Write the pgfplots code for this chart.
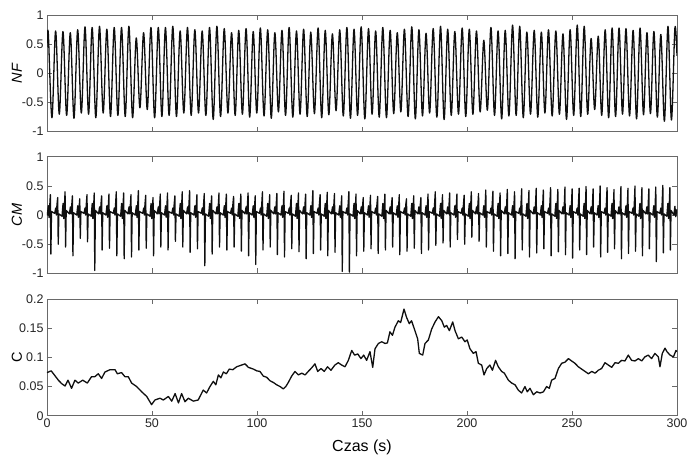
\documentclass[border=0pt]{standalone}
\usepackage{pgfplots}
\pgfplotsset{compat=1.18}
\usepackage{fontspec}
\setmainfont{Liberation Sans}

\definecolor{framegray}{RGB}{105,105,105}
\definecolor{tracecol}{RGB}{15,15,15}

\pgfplotsset{
  panel/.style={
    scale only axis, width=630pt, height=116.5pt,
    xmin=0, xmax=300, xtick={0,50,...,300},
    axis line style={framegray, line width=0.8pt},
    tick style={framegray, line width=0.8pt},
    tick align=inside, major tick length=5pt,
    ticklabel style={font=\fontsize{12.5}{14}\selectfont, text=black!85},
    /pgf/number format/assume math mode=true,
    every axis y label/.style={at={(axis description cs:0,0.5)}, xshift=-30pt,
      rotate=90, anchor=center, font=\fontsize{14.5}{16}\selectfont},
    every axis x label/.style={at={(axis description cs:0.5,0)}, yshift=-32pt,
      anchor=center, font=\fontsize{16}{18}\selectfont},
  },
  signal/.style={tracecol, line width=1.3pt, no marks, line join=round},
}

\begin{document}
\begin{tikzpicture}
\path[use as bounding box] (0,0) rectangle (687pt,461pt);

% ---------------- NF ----------------
\begin{axis}[panel, at={(47pt,329.3pt)}, anchor=south west,
  ymin=-1, ymax=1, ytick={-1,-0.5,0,0.5,1}, yticklabels={-1,-0.5,0,0.5,1},
  xticklabels={}, ylabel={\itshape NF}]
\addplot[signal, smooth, tension=0.55] coordinates {
(0,0.45)(0.6,0.70)(2.35,-0.76)(4.1,0.73)(5.85,-0.70)(7.6,0.72)(9.35,-0.72)(11.1,0.70)(12.85,-0.77)
(14.6,0.75)(16.35,-0.68)(18.1,0.80)(19.8,-0.70)(21.5,0.79)(23.25,-0.76)(25.0,0.81)(26.75,-0.68)
(28.5,0.76)(30.25,-0.74)(32.0,0.79)(33.75,-0.72)(35.5,0.79)(37.25,-0.74)(39.0,0.81)(40.75,-0.76)
(42.5,0.61)(44.25,-0.59)(46.0,0.70)(47.75,-0.62)(49.5,0.79)(51.25,-0.76)(53.0,0.79)(54.7,-0.74)
(56.4,0.79)(58.15,-0.72)(59.9,0.81)(61.65,-0.74)(63.4,0.73)(65.15,-0.68)(66.9,0.79)(68.65,-0.72)
(70.4,0.75)(72.15,-0.68)(73.9,0.73)(75.65,-0.72)(77.4,0.79)(79.15,-0.79)(80.9,0.81)(82.65,-0.74)
(84.4,0.77)(86.15,-0.68)(87.9,0.70)(89.6,-0.72)
(91.3,0.74)(93.05,-0.70)(94.8,0.77)(96.5,-0.75)(98.2,0.72)(99.9,-0.68)(101.6,0.78)(103.35,-0.73)
(105.1,0.75)(106.8,-0.77)(108.5,0.70)(110.2,-0.66)(111.9,0.74)(113.6,-0.72)(115.3,0.79)(117.05,-0.75)
(118.8,0.73)(120.5,-0.70)(122.2,0.76)(123.9,-0.74)(125.6,0.71)(127.35,-0.69)(129.1,0.78)(130.8,-0.76)
(132.5,0.74)(134.2,-0.71)(135.9,0.68)(137.65,-0.64)(139.4,0.75)(141.1,-0.73)(142.8,0.79)(144.5,-0.77)
(146.2,0.76)(147.9,-0.72)(149.6,0.80)(151.35,-0.78)(153.1,0.77)(154.8,-0.70)(156.5,0.73)(158.2,-0.75)
(159.9,0.79)(161.65,-0.76)(163.4,0.74)(165.1,-0.69)(166.8,0.70)(168.5,-0.66)(170.2,0.76)(171.95,-0.74)
(173.7,0.80)(175.4,-0.78)(177.1,0.75)(178.8,-0.73)(180.5,0.69)(182.2,-0.68)(183.9,0.77)(185.65,-0.75)
(187.4,0.81)(189.1,-0.79)(190.8,0.76)(192.5,-0.72)(194.2,0.72)(195.95,-0.70)
(197.7,0.78)(199.4,-0.74)(201.1,0.76)(202.8,-0.70)(204.5,0.73)(206.25,-0.66)(208.0,0.57)(209.7,-0.63)
(211.4,0.79)(213.1,-0.72)(214.8,0.73)(216.5,-0.78)(218.2,0.74)(219.95,-0.73)(221.7,0.83)(223.4,-0.72)
(225.1,0.81)(226.8,-0.76)(228.5,0.71)(230.25,-0.70)(232.0,0.74)(233.7,-0.75)(235.4,0.71)(237.1,-0.68)
(238.8,0.75)(240.55,-0.73)(242.3,0.73)(244.0,-0.70)(245.7,0.68)(247.4,-0.79)(249.1,0.75)(250.8,-0.72)
(252.5,0.83)(254.15,-0.74)(255.8,0.81)(257.45,-0.70)(259.1,0.60)(260.8,-0.62)(262.5,0.64)(264.15,-0.72)
(265.8,0.75)(267.45,-0.76)(269.1,0.78)(270.75,-0.74)(272.4,0.78)(274.05,-0.70)(275.7,0.77)(277.4,-0.73)
(279.1,0.74)(280.75,-0.78)(282.4,0.78)(284.05,-0.71)(285.7,0.70)(287.35,-0.69)(289.0,0.72)(290.65,-0.75)
(292.3,0.67)(294.0,-0.82)(295.7,0.81)(297.35,-0.80)(299.0,0.78)(300,0.30)
};
\end{axis}

% ---------------- CM ----------------
\begin{axis}[panel, at={(47pt,187.7pt)}, anchor=south west,
  ymin=-1, ymax=1, ytick={-1,-0.5,0,0.5,1}, yticklabels={-1,-0.5,0,0.5,1},
  xticklabels={}, ylabel={\itshape CM}]
\addplot[signal] coordinates {
(0,0.05)
(0.15,0.00)(0.65,0.16)(0.95,-0.04)(1.25,0.12)(1.6,0.35)(1.85,-0.67)(2.15,0.06)
(3.65,0.03)(4.15,0.12)(4.45,0.00)(4.75,0.18)(5.1,0.30)(5.35,-0.50)(5.65,0.02)
(7.15,-0.02)(7.65,0.20)(7.95,-0.06)(8.25,0.10)(8.6,0.40)(8.85,-0.55)(9.15,0.08)
(10.65,0.02)(11.15,0.14)(11.45,0.02)(11.75,0.15)(12.1,0.33)(12.35,-0.70)(12.65,0.04)
(14.15,0.00)(14.65,0.16)(14.95,-0.04)(15.25,0.12)(15.6,0.28)(15.85,-0.40)(16.15,0.06)
(17.6,0.03)(18.1,0.12)(18.4,0.00)(18.7,0.18)(19.05,0.35)(19.3,-0.46)(19.6,0.02)
(21.05,-0.02)(21.55,0.20)(21.85,-0.06)(22.15,0.10)(22.5,0.38)(22.75,-0.95)(23.05,0.08)
(24.55,0.02)(25.05,0.14)(25.35,0.02)(25.65,0.15)(26.0,0.33)(26.25,-0.60)(26.55,0.04)
(28.05,0.00)(28.55,0.16)(28.85,-0.04)(29.15,0.12)(29.5,0.36)(29.75,-0.57)(30.05,0.06)
(31.55,0.03)(32.05,0.12)(32.35,0.00)(32.65,0.18)(33.0,0.40)(33.25,-0.70)(33.55,0.02)
(35.05,-0.02)(35.55,0.20)(35.85,-0.06)(36.15,0.10)(36.5,0.38)(36.75,-0.75)(37.05,0.08)
(38.55,0.02)(39.05,0.14)(39.35,0.02)(39.65,0.15)(40.0,0.35)(40.25,-0.72)(40.55,0.04)
(42.05,0.00)(42.55,0.16)(42.85,-0.04)(43.15,0.12)(43.5,0.42)(43.75,-0.60)(44.05,0.06)
(45.55,0.03)(46.05,0.12)(46.35,0.00)(46.65,0.18)(47.0,0.34)(47.25,-0.57)(47.55,0.02)
(49.05,-0.02)(49.55,0.20)(49.85,-0.06)(50.15,0.10)(50.5,0.30)(50.75,-0.70)(51.05,0.08)
(52.5,0.02)(53.0,0.14)(53.3,0.02)(53.6,0.15)(53.95,0.36)(54.2,-0.55)(54.5,0.04)
(55.95,0.00)(56.45,0.16)(56.75,-0.04)(57.05,0.12)(57.4,0.38)(57.65,-0.60)(57.95,0.06)
(59.45,0.03)(59.95,0.12)(60.25,0.00)(60.55,0.18)(60.9,0.33)(61.15,-0.45)(61.45,0.02)
(62.95,-0.02)(63.45,0.20)(63.75,-0.06)(64.05,0.10)(64.4,0.40)(64.65,-0.55)(64.95,0.08)
(66.45,0.02)(66.95,0.14)(67.25,0.02)(67.55,0.15)(67.9,0.42)(68.15,-0.64)(68.45,0.04)
(69.95,0.00)(70.45,0.16)(70.75,-0.04)(71.05,0.12)(71.4,0.35)(71.65,-0.58)(71.95,0.06)
(73.45,0.03)(73.95,0.12)(74.25,0.00)(74.55,0.18)(74.9,0.37)(75.15,-0.87)(75.45,0.02)
(76.95,-0.02)(77.45,0.20)(77.75,-0.06)(78.05,0.10)(78.4,0.33)(78.65,-0.67)(78.95,0.08)
(80.45,0.02)(80.95,0.14)(81.25,0.02)(81.55,0.15)(81.9,0.38)(82.15,-0.55)(82.45,0.04)
(83.95,0.00)(84.45,0.16)(84.75,-0.04)(85.05,0.12)(85.4,0.36)(85.65,-0.60)(85.95,0.06)
(87.4,0.03)(87.9,0.12)(88.2,0.00)(88.5,0.18)(88.85,0.32)(89.1,-0.55)(89.4,0.02)
(90.85,-0.02)(91.35,0.20)(91.65,-0.06)(91.95,0.10)(92.3,0.36)(92.55,-0.62)(92.85,0.08)
(94.3,0.02)(94.8,0.14)(95.1,0.02)(95.4,0.15)(95.75,0.38)(96.0,-0.70)(96.3,0.04)
(97.7,0.00)(98.2,0.16)(98.5,-0.04)(98.8,0.12)(99.15,0.33)(99.4,-0.85)(99.7,0.06)
(101.15,0.03)(101.65,0.12)(101.95,0.00)(102.25,0.18)(102.6,0.40)(102.85,-0.60)(103.15,0.02)
(104.6,-0.02)(105.1,0.20)(105.4,-0.06)(105.7,0.10)(106.05,0.35)(106.3,-0.55)(106.6,0.08)
(108.0,0.02)(108.5,0.14)(108.8,0.02)(109.1,0.15)(109.45,0.37)(109.7,-0.68)(110.0,0.04)
(111.4,0.00)(111.9,0.16)(112.2,-0.04)(112.5,0.12)(112.85,0.41)(113.1,-0.72)(113.4,0.06)
(114.85,0.03)(115.35,0.12)(115.65,0.00)(115.95,0.18)(116.3,0.34)(116.55,-0.58)(116.85,0.02)
(118.3,-0.02)(118.8,0.20)(119.1,-0.06)(119.4,0.10)(119.75,0.38)(120.0,-0.63)(120.3,0.08)
(121.7,0.02)(122.2,0.14)(122.5,0.02)(122.8,0.15)(123.15,0.36)(123.4,-0.75)(123.7,0.04)
(125.15,0.00)(125.65,0.16)(125.95,-0.04)(126.25,0.12)(126.6,0.42)(126.85,-0.66)(127.15,0.06)
(128.6,0.03)(129.1,0.12)(129.4,0.00)(129.7,0.18)(130.05,0.35)(130.3,-0.60)(130.6,0.02)
(132.0,-0.02)(132.5,0.20)(132.8,-0.06)(133.1,0.10)(133.45,0.39)(133.7,-0.70)(134.0,0.08)
(135.45,0.02)(135.95,0.14)(136.25,0.02)(136.55,0.15)(136.9,0.37)(137.15,-0.64)(137.45,0.04)
(138.9,0.00)(139.4,0.16)(139.7,-0.04)(140.0,0.12)(140.35,0.33)(140.6,-0.97)(140.9,0.06)
(142.3,0.03)(142.8,0.12)(143.1,0.00)(143.4,0.18)(143.75,0.40)(144.0,-0.98)(144.3,0.02)
(145.7,-0.02)(146.2,0.20)(146.5,-0.06)(146.8,0.10)(147.15,0.36)(147.4,-0.70)(147.7,0.08)
(149.15,0.02)(149.65,0.14)(149.95,0.02)(150.25,0.15)(150.6,0.30)(150.85,-0.62)(151.15,0.04)
(152.6,0.00)(153.1,0.16)(153.4,-0.04)(153.7,0.12)(154.05,0.34)(154.3,-0.58)(154.6,0.06)
(156.0,0.03)(156.5,0.12)(156.8,0.00)(157.1,0.18)(157.45,0.32)(157.7,-0.66)(158.0,0.02)
(159.45,-0.02)(159.95,0.20)(160.25,-0.06)(160.55,0.10)(160.9,0.36)(161.15,-0.60)(161.45,0.08)
(162.9,0.02)(163.4,0.14)(163.7,0.02)(164.0,0.15)(164.35,0.30)(164.6,-0.55)(164.9,0.04)
(166.3,0.00)(166.8,0.16)(167.1,-0.04)(167.4,0.12)(167.75,0.35)(168.0,-0.68)(168.3,0.06)
(169.75,0.03)(170.25,0.12)(170.55,0.00)(170.85,0.18)(171.2,0.28)(171.45,-0.62)(171.75,0.02)
(173.2,-0.02)(173.7,0.20)(174.0,-0.06)(174.3,0.10)(174.65,0.33)(174.9,-0.57)(175.2,0.08)
(176.6,0.02)(177.1,0.14)(177.4,0.02)(177.7,0.15)(178.05,0.30)(178.3,-0.66)(178.6,0.04)
(180.0,0.00)(180.5,0.16)(180.8,-0.04)(181.1,0.12)(181.45,0.36)(181.7,-0.60)(182.0,0.06)
(183.45,0.03)(183.95,0.12)(184.25,0.00)(184.55,0.18)(184.9,0.40)(185.15,-0.52)(185.45,0.02)
(186.9,-0.02)(187.4,0.20)(187.7,-0.06)(188.0,0.10)(188.35,0.35)(188.6,-0.48)(188.9,0.08)
(190.3,0.02)(190.8,0.14)(191.1,0.02)(191.4,0.15)(191.75,0.38)(192.0,-0.55)(192.3,0.04)
(193.75,0.00)(194.25,0.16)(194.55,-0.04)(194.85,0.12)(195.2,0.36)(195.45,-0.42)(195.75,0.06)
(197.2,0.03)(197.7,0.12)(198.0,0.00)(198.3,0.18)(198.65,0.34)(198.9,-0.50)(199.2,0.02)
(200.6,-0.02)(201.1,0.20)(201.4,-0.06)(201.7,0.10)(202.05,0.40)(202.3,-0.38)(202.6,0.08)
(204.05,0.02)(204.55,0.14)(204.85,0.02)(205.15,0.15)(205.5,0.37)(205.75,-0.45)(206.05,0.04)
(207.5,0.00)(208.0,0.16)(208.3,-0.04)(208.6,0.12)(208.95,0.43)(209.2,-0.55)(209.5,0.06)
(210.9,0.03)(211.4,0.12)(211.7,0.00)(212.0,0.18)(212.35,0.41)(212.6,-0.62)(212.9,0.02)
(214.3,-0.02)(214.8,0.20)(215.1,-0.06)(215.4,0.10)(215.75,0.38)(216.0,-0.70)(216.3,0.08)
(217.75,0.02)(218.25,0.14)(218.55,0.02)(218.85,0.15)(219.2,0.44)(219.45,-0.66)(219.75,0.04)
(221.2,0.00)(221.7,0.16)(222.0,-0.04)(222.3,0.12)(222.65,0.40)(222.9,-0.75)(223.2,0.06)
(224.6,0.03)(225.1,0.12)(225.4,0.00)(225.7,0.18)(226.05,0.45)(226.3,-0.60)(226.6,0.02)
(228.05,-0.02)(228.55,0.20)(228.85,-0.06)(229.15,0.10)(229.5,0.42)(229.75,-0.72)(230.05,0.08)
(231.5,0.02)(232.0,0.14)(232.3,0.02)(232.6,0.15)(232.95,0.46)(233.2,-0.65)(233.5,0.04)
(234.9,0.00)(235.4,0.16)(235.7,-0.04)(236.0,0.12)(236.35,0.43)(236.6,-0.58)(236.9,0.06)
(238.35,0.03)(238.85,0.12)(239.15,0.00)(239.45,0.18)(239.8,0.47)(240.05,-0.70)(240.35,0.02)
(241.8,-0.02)(242.3,0.20)(242.6,-0.06)(242.9,0.10)(243.25,0.44)(243.5,-0.63)(243.8,0.08)
(245.2,0.02)(245.7,0.14)(246.0,0.02)(246.3,0.15)(246.65,0.48)(246.9,-0.68)(247.2,0.04)
(248.6,0.00)(249.1,0.16)(249.4,-0.04)(249.7,0.12)(250.05,0.45)(250.3,-0.74)(250.6,0.06)
(251.95,0.03)(252.45,0.12)(252.75,0.00)(253.05,0.18)(253.4,0.46)(253.65,-0.60)(253.95,0.02)
(255.25,-0.02)(255.75,0.20)(256.05,-0.06)(256.35,0.10)(256.7,0.49)(256.95,-0.68)(257.25,0.08)
(258.6,0.02)(259.1,0.14)(259.4,0.02)(259.7,0.15)(260.05,0.45)(260.3,-0.55)(260.6,0.04)
(261.95,0.00)(262.45,0.16)(262.75,-0.04)(263.05,0.12)(263.4,0.50)(263.65,-0.72)(263.95,0.06)
(265.25,0.03)(265.75,0.12)(266.05,0.00)(266.35,0.18)(266.7,0.47)(266.95,-0.64)(267.25,0.02)
(268.55,-0.02)(269.05,0.20)(269.35,-0.06)(269.65,0.10)(270.0,0.44)(270.25,-0.58)(270.55,0.08)
(271.85,0.02)(272.35,0.14)(272.65,0.02)(272.95,0.15)(273.3,0.49)(273.55,-0.75)(273.85,0.04)
(275.2,0.00)(275.7,0.16)(276.0,-0.04)(276.3,0.12)(276.65,0.46)(276.9,-0.66)(277.2,0.06)
(278.55,0.03)(279.05,0.12)(279.35,0.00)(279.65,0.18)(280.0,0.50)(280.25,-0.62)(280.55,0.02)
(281.85,-0.02)(282.35,0.20)(282.65,-0.06)(282.95,0.10)(283.3,0.47)(283.55,-0.70)(283.85,0.08)
(285.15,0.02)(285.65,0.14)(285.95,0.02)(286.25,0.15)(286.6,0.45)(286.85,-0.58)(287.15,0.04)
(288.45,0.00)(288.95,0.16)(289.25,-0.04)(289.55,0.12)(289.9,0.48)(290.15,-0.80)(290.45,0.06)
(291.8,0.03)(292.3,0.12)(292.6,0.00)(292.9,0.18)(293.25,0.51)(293.5,-0.65)(293.8,0.02)
(295.15,-0.02)(295.65,0.20)(295.95,-0.06)(296.25,0.10)(296.6,0.47)(296.85,-0.60)(297.15,0.08)
(298.5,0.00)(299.0,0.15)(299.4,-0.03)(300,0.10)
};
\end{axis}

% ---------------- C ----------------
\begin{axis}[panel, at={(47pt,45.3pt)}, anchor=south west,
  ymin=0, ymax=0.2, ytick={0,0.05,0.1,0.15,0.2}, yticklabels={0,0.05,0.1,0.15,0.2},
  xticklabels={0,50,100,150,200,250,300},
  ylabel={C}, xlabel={Czas (s)}]
\addplot[signal] coordinates {
(0,0.074)(2,0.077)(3.5,0.070)(5.4,0.061)(7,0.055)(8.6,0.051)(10,0.061)(11.7,0.047)(13.3,0.061)
(14.9,0.056)(17,0.061)(19.2,0.056)(21.2,0.067)(22.8,0.067)(24.4,0.072)(26,0.064)(27.6,0.075)
(30,0.079)(32.4,0.079)(33.5,0.072)(35.5,0.074)(37.1,0.067)(38.7,0.067)(40.3,0.056)(42.7,0.050)
(45.1,0.041)(47.5,0.033)(49.8,0.019)(51.4,0.027)(53.8,0.030)(55.4,0.027)(57.8,0.033)(59.4,0.025)
(61,0.038)(62.6,0.022)(64.1,0.038)(65.7,0.024)(67.3,0.030)(69.7,0.025)(72,0.027)(74.4,0.044)
(76,0.039)(77.6,0.050)(79.2,0.059)(80.4,0.053)(81.6,0.070)(82.8,0.065)(84,0.075)(85.4,0.072)
(86.8,0.080)(88.5,0.079)(90.3,0.084)(92.7,0.087)(94.3,0.089)(95.9,0.083)(98.3,0.080)(99.9,0.077)
(101.4,0.076)(103,0.068)(104.6,0.066)(106.2,0.060)(107.8,0.057)(109.4,0.053)(111,0.050)(112.5,0.046)
(113.7,0.050)(114.9,0.057)(116.5,0.068)(118.1,0.076)(119.7,0.070)(121.3,0.073)(122.9,0.070)
(124.4,0.076)(126,0.082)(127.6,0.089)(128.9,0.076)(130.5,0.081)(132,0.076)(133.6,0.084)(135.2,0.078)
(137.1,0.087)(138.7,0.091)(140.3,0.087)(141.9,0.084)(143.5,0.095)(145.1,0.112)(146.5,0.104)
(148,0.106)(149.5,0.098)(150.8,0.104)(152.2,0.095)(153.8,0.110)(155.1,0.083)(156.2,0.115)
(157.8,0.124)(159.4,0.127)(161,0.124)(162.1,0.125)(163.3,0.144)(164.5,0.138)(165.7,0.152)
(167.3,0.163)(168.4,0.160)(170,0.183)(171.2,0.169)(172.5,0.158)(173.6,0.163)(175.2,0.146)
(176.5,0.132)(177.3,0.107)(178.9,0.104)(180,0.124)(181.6,0.130)(183.2,0.149)(184.8,0.161)
(186.4,0.170)(188,0.163)(189.2,0.152)(190.3,0.155)(191.6,0.146)(193.2,0.161)(194.3,0.146)
(195.9,0.132)(197.5,0.135)(199,0.127)(200.1,0.130)(201.4,0.115)(203,0.107)(204.3,0.110)
(205.4,0.090)(207,0.087)(208.1,0.070)(209.4,0.081)(210.9,0.087)(212.1,0.078)(213.6,0.095)
(214.9,0.084)(216.5,0.076)(217.8,0.073)(219.7,0.061)(221.3,0.056)(222.9,0.053)(224.4,0.044)
(226,0.039)(227.6,0.050)(228.7,0.041)(230,0.047)(231.6,0.036)(233.2,0.041)(234.8,0.039)
(236.4,0.041)(237.9,0.050)(239.2,0.047)(240.3,0.061)(241.9,0.064)(243.5,0.081)(245.1,0.090)
(246.7,0.092)(248.3,0.098)(249.8,0.094)(251.4,0.090)(253,0.084)(254.6,0.080)(256.2,0.076)
(257.8,0.072)(259.4,0.076)(261,0.073)(262.5,0.078)(264.1,0.081)(265.7,0.091)(267.3,0.087)
(268.9,0.083)(270.5,0.091)(272.1,0.090)(273.6,0.095)(275.2,0.094)(276.8,0.104)(278.4,0.095)
(280,0.094)(281.6,0.098)(283.2,0.094)(284.7,0.101)(286.3,0.104)(287.9,0.098)(289.5,0.107)
(291.1,0.101)(291.9,0.084)(293,0.107)(294.3,0.116)(295.2,0.110)(296.7,0.104)(298.3,0.101)
(299.5,0.112)(300,0.110)
};
\end{axis}
\end{tikzpicture}
\end{document}
